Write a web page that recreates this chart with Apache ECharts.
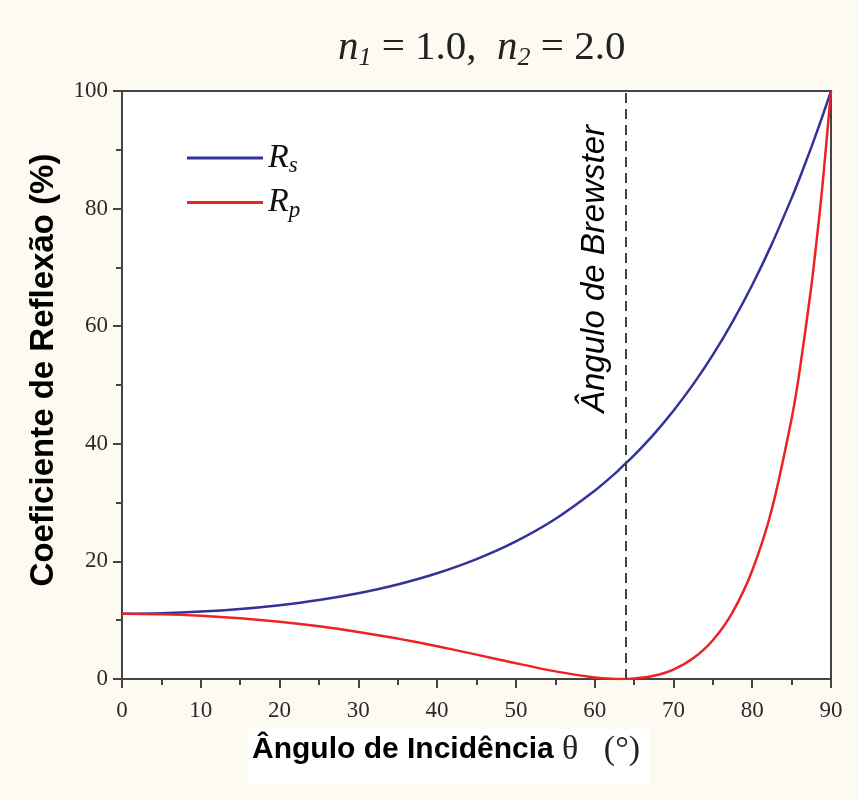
<!DOCTYPE html>
<html><head><meta charset="utf-8">
<script src="https://cdn.jsdelivr.net/npm/echarts@6/dist/echarts.min.js"></script>
<style>html,body{margin:0;padding:0;background:#fdfaf1;}#c{width:858px;height:800px;}</style>
</head><body><div id="c"></div>
<script>
var angles = [0,5,10,15,20,25,30,35,40,45,50,55,60,62.5,63.4,65,67.5,70,72.5,75,77.5,80,82.5,85,86,87.5,88.5,89,90];
var rsValues = [11.11,11.20,11.46,11.90,12.55,13.43,14.59,16.08,17.98,20.38,23.40,27.21,32.01,34.85,36.00,38.04,41.61,45.62,50.11,55.13,60.74,67.01,74.00,81.78,85.13,90.42,94.13,96.05,100];
var rpValues = [11.11,11.03,10.77,10.34,9.74,8.96,8.00,6.87,5.57,4.15,2.68,1.30,0.27,0.02,0.00,0.07,0.54,1.61,3.52,6.60,11.35,18.45,28.92,44.26,52.23,66.75,78.50,85.10,100];
var brewsterAngle = 64;
var xTicks = [0,10,20,30,40,50,60,70,80,90];
var yTicks = [0,20,40,60,80,100];

function pairs(ys){ return angles.map(function(a,i){ return [a, ys[i]]; }); }

var chart = echarts.init(document.getElementById('c'));
var serif = '"Liberation Serif","Times New Roman",serif';
var sans = '"Liberation Sans",Arial,sans-serif';
chart.setOption({
  backgroundColor: '#fdfaf1',
  animation: false,
  title: [{
    text: '{n|n}{sub|1}{t| = 1.0,  }{n|n}{sub|2}{t| = 2.0}',
    left: 333, top: 21,
    textStyle: { fontWeight: 'normal', rich: {
      n: { fontFamily: serif, fontStyle: 'italic', fontWeight: 'normal', fontSize: 41, color: '#222' },
      sub: { fontFamily: serif, fontStyle: 'italic', fontWeight: 'normal', fontSize: 26, color: '#222', padding: [19,0,0,0] },
      t: { fontFamily: serif, fontWeight: 'normal', fontSize: 41, color: '#222' }
    }}
  },{
    text: '{a|Ângulo de Incidência }{b|θ   (°)}',
    left: 248, top: 729,
    backgroundColor: '#ffffff', padding: [4, 10, 16, 4],
    textStyle: { fontWeight: 'normal', rich: {
      a: { fontFamily: sans, fontWeight: 'bold', fontSize: 30, color: '#000' },
      b: { fontFamily: serif, fontWeight: 'normal', fontSize: 34, color: '#222' }
    }}
  }],
  legend: {
    left: 182, top: 136, orient: 'vertical', itemWidth: 76, itemHeight: 3, itemGap: 8, icon: 'rect',
    data: ['Rs','Rp'],
    formatter: function(n){ return n === 'Rs' ? '{R|R}{s|s}' : '{R|R}{s|p}'; },
    textStyle: { rich: {
      R: { fontFamily: serif, fontStyle: 'italic', fontSize: 34, color: '#111', lineHeight: 34 },
      s: { fontFamily: serif, fontStyle: 'italic', fontSize: 23, color: '#111', padding: [16,0,0,0] }
    }}
  },
  grid: { left: 122, right: 27, top: 91, bottom: 121, show: true, backgroundColor: '#ffffff', borderColor: '#444', borderWidth: 2 },
  xAxis: {
    type: 'value', min: 0, max: 90, interval: 10,
    axisLine: { show: true, lineStyle: { color: '#444', width: 2 } },
    axisTick: { show: true, inside: false, length: 9, lineStyle: { color: '#444', width: 2 } },
    minorTick: { show: true, splitNumber: 2, length: 6, lineStyle: { color: '#444', width: 2 } },
    splitLine: { show: false },
    axisLabel: { fontFamily: serif, fontSize: 23, color: '#2a2a2a', margin: 20 }
  },
  yAxis: {
    type: 'value', min: 0, max: 100, interval: 20,
    name: 'Coeficiente de Reflexão (%)', nameLocation: 'middle', nameGap: 62,
    nameTextStyle: { fontFamily: sans, fontWeight: 'bold', fontSize: 33, color: '#000', padding: [0, 0, 0, 30] },
    axisLine: { show: true, lineStyle: { color: '#444', width: 2 } },
    axisTick: { show: true, inside: false, length: 9, lineStyle: { color: '#444', width: 2 } },
    minorTick: { show: true, splitNumber: 2, length: 6, lineStyle: { color: '#444', width: 2 } },
    splitLine: { show: false },
    axisLabel: { fontFamily: serif, fontSize: 23, color: '#2a2a2a', margin: 14 }
  },
  series: [{
    name: 'Rs', type: 'line', data: pairs(rsValues), symbol: 'none', smooth: 0.25,
    lineStyle: { color: '#33329a', width: 2.5 }, itemStyle: { color: '#33329a' },
    markLine: {
      silent: true, symbol: 'none',
      lineStyle: { color: '#444', type: [10,6], width: 2 },
      label: { show: true, position: 'insideEndTop', formatter: 'Ângulo de Brewster', distance: [34, 15],
        fontFamily: sans, fontStyle: 'italic', fontSize: 33, color: '#000' },
      data: [{ xAxis: brewsterAngle }]
    }
  },{
    name: 'Rp', type: 'line', data: pairs(rpValues), symbol: 'none', smooth: 0.25,
    lineStyle: { color: '#ee2222', width: 2.5 }, itemStyle: { color: '#ee2222' }
  }]
});
</script></body></html>
